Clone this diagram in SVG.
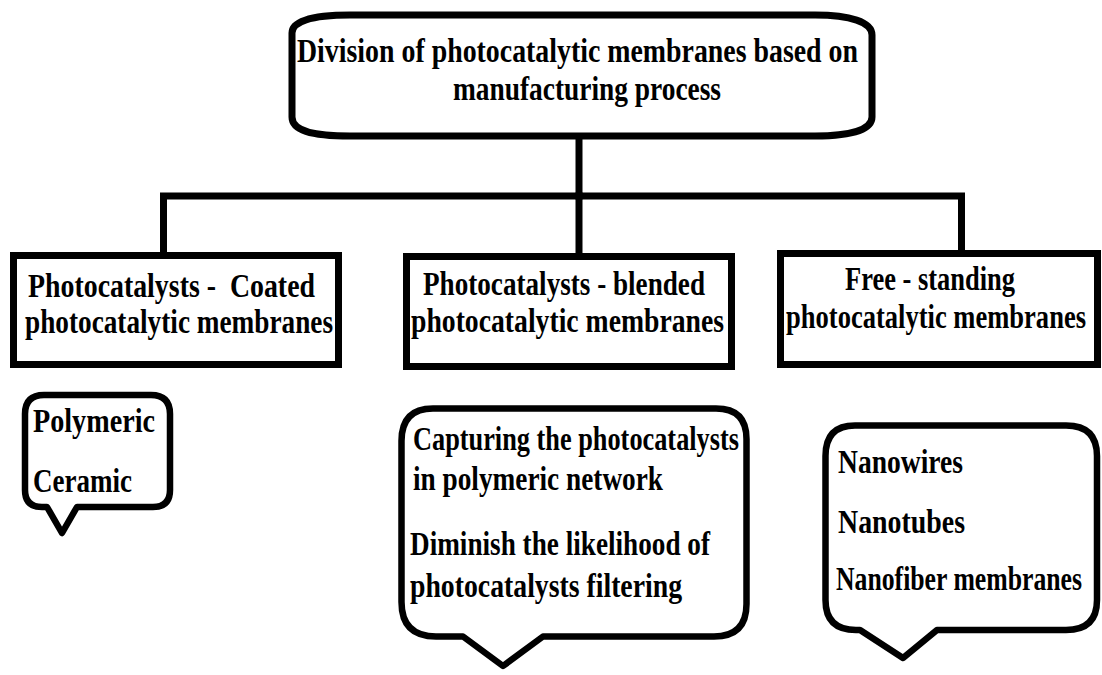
<svg xmlns="http://www.w3.org/2000/svg" width="1102" height="675" viewBox="0 0 1102 675">
  <style>
    .t { font-family: "Liberation Serif", "Times New Roman", serif; font-weight: bold; font-size: 34px; fill: #000; }
    .box { fill: #fff; stroke: #000; stroke-width: 7; }
    .bubble { fill: #fff; stroke: #000; stroke-width: 6.5; stroke-linejoin: round; }
    .link { fill: none; stroke: #000; stroke-width: 7; stroke-linejoin: miter; stroke-linecap: square; }
  </style>
  <rect width="1102" height="675" fill="#fff"/>

  <!-- tree connectors -->
  <g id="connectors">
    <path class="link" d="M579 138 V196"/>
    <path class="link" d="M163.5 255 V196 H961.5 V253"/>
    <path class="link" d="M579 196 V256"/>
  </g>

  <!-- root -->
  <g id="root">
    <path class="box" stroke-width="6.5" d="M350 15 L815 15 C850 15 872 22 872 35 L872 117 C872 130 850 136 815 136 L350 136 C310 136 292 130 292 117 L292 33 C292 22 310 15 350 15 Z"/>
    <text class="t" x="297" y="62" textLength="561" lengthAdjust="spacingAndGlyphs">Division of photocatalytic membranes based on</text>
    <text class="t" x="453" y="100" textLength="268" lengthAdjust="spacingAndGlyphs">manufacturing process</text>
  </g>

  <!-- categories -->
  <g id="coated">
    <rect class="box" x="13.5" y="255.5" width="325" height="109"/>
    <text class="t" x="28" y="297" textLength="287" lengthAdjust="spacingAndGlyphs" xml:space="preserve">Photocatalysts -  Coated</text>
    <text class="t" x="25" y="333" textLength="308" lengthAdjust="spacingAndGlyphs">photocatalytic membranes</text>
  </g>

  <g id="blended">
    <rect class="box" x="406.5" y="256.5" width="325" height="110"/>
    <text class="t" x="423" y="295" textLength="282" lengthAdjust="spacingAndGlyphs">Photocatalysts - blended</text>
    <text class="t" x="411" y="332" textLength="313" lengthAdjust="spacingAndGlyphs">photocatalytic membranes</text>
  </g>

  <g id="free-standing">
    <rect class="box" x="780.5" y="253.5" width="317" height="111"/>
    <text class="t" x="845" y="290" textLength="170" lengthAdjust="spacingAndGlyphs">Free - standing</text>
    <text class="t" x="786" y="328" textLength="300" lengthAdjust="spacingAndGlyphs">photocatalytic membranes</text>
  </g>

  <!-- callouts -->
  <g id="coated-types">
    <path class="bubble" d="M44 395 L151 395 Q170 395 170 414 L170 490 Q170 507 153 507 L77 507 L62 533 L47 507 L42 507 Q25 507 25 490 L25 414 Q25 395 44 395 Z"/>
    <text class="t" x="33" y="432" textLength="122" lengthAdjust="spacingAndGlyphs">Polymeric</text>
    <text class="t" x="33" y="492" textLength="99" lengthAdjust="spacingAndGlyphs">Ceramic</text>
  </g>

  <g id="blended-notes">
    <path class="bubble" d="M433 408.5 L716 408.5 Q746.5 408.5 746.5 439 L746.5 604 Q746.5 636.5 714 636.5 L543 636.5 L503 666 L463 636.5 L436 636.5 Q401.5 636.5 401.5 602 L401.5 441 Q401.5 408.5 433 408.5 Z"/>
    <text class="t" x="413" y="450" textLength="326" lengthAdjust="spacingAndGlyphs">Capturing the photocatalysts</text>
    <text class="t" x="413" y="490" textLength="250" lengthAdjust="spacingAndGlyphs">in polymeric network</text>
    <text class="t" x="410" y="555" textLength="300" lengthAdjust="spacingAndGlyphs">Diminish the likelihood of</text>
    <text class="t" x="410" y="597" textLength="272" lengthAdjust="spacingAndGlyphs">photocatalysts filtering</text>
  </g>

  <g id="free-standing-types">
    <path class="bubble" d="M855 425.5 L1066 425.5 Q1097 425.5 1097 456 L1097 600 Q1097 630 1066 630 L937 630 L903 658 L860 630 L856 630 Q825.5 630 825.5 600 L825.5 456 Q825.5 425.5 855 425.5 Z"/>
    <text class="t" x="838" y="473" textLength="125" lengthAdjust="spacingAndGlyphs">Nanowires</text>
    <text class="t" x="838" y="533" textLength="127" lengthAdjust="spacingAndGlyphs">Nanotubes</text>
    <text class="t" x="836" y="590" textLength="246" lengthAdjust="spacingAndGlyphs">Nanofiber membranes</text>
  </g>
</svg>
